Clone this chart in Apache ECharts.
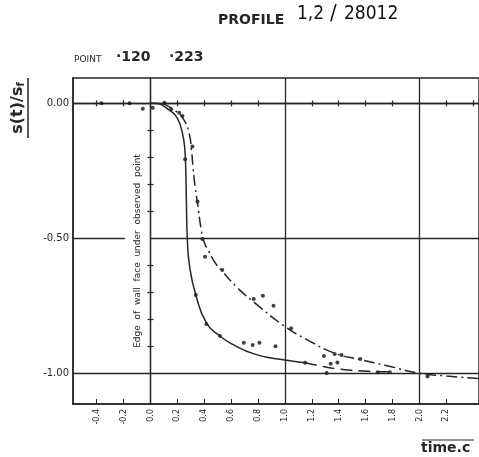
<!DOCTYPE html>
<html>
<head>
<meta charset="utf-8">
<script src="https://cdn.jsdelivr.net/npm/echarts@6/dist/echarts.min.js"></script>
<style>
  html, body { margin: 0; padding: 0; background: #fff; }
  #main { width: 479px; height: 457px; }
</style>
</head>
<body>
<div id="main"></div>
<script>
// axis window (frame edges)
var xMin = -0.576, xMax = 2.443;
var yMin = -1.114, yMax = 0.094;

var xLabelValues = [-0.4, -0.2, 0, 0.2, 0.4, 0.6, 0.8, 1.0, 1.2, 1.4, 1.6, 1.8, 2.0, 2.2];
var xZeroTicks = [-0.4, -0.2, 0.2, 0.4, 0.6, 0.8, 1.2, 1.4, 1.6, 1.8, 2.2, 2.4];
var yZeroTicks = [-0.1, -0.2, -0.3, -0.4, -0.6, -0.7, -0.8, -0.9];
var yLabelValues = [0, -0.5, -1];
var xGridLines = [1, 2];
var yGridLines = [-1];

// point 120 - inner curve (solid, dashed tail)
var curve120 = [
  [0.0, 0.0], [0.03, 0.0], [0.14, -0.025], [0.2, -0.056], [0.238, -0.111],
  [0.256, -0.173], [0.263, -0.26], [0.267, -0.36], [0.274, -0.5], [0.29, -0.6],
  [0.337, -0.71], [0.418, -0.815], [0.517, -0.862], [0.6, -0.89], [0.78, -0.93],
  [1.0, -0.951], [1.15, -0.961]
];
var curve120Tail = [
  [1.15, -0.961], [1.28, -0.975], [1.39, -0.984], [1.62, -0.993], [1.8, -0.995]
];
// point 223 - outer curve (dash-dot)
var curve223 = [
  [0.09, 0.0], [0.19, -0.029], [0.25, -0.062], [0.288, -0.111], [0.305, -0.173],
  [0.317, -0.24], [0.332, -0.31], [0.35, -0.37], [0.378, -0.47], [0.40, -0.515],
  [0.43, -0.545], [0.48, -0.59], [0.534, -0.622], [0.65, -0.685], [0.78, -0.741],
  [1.0, -0.827], [1.17, -0.877], [1.37, -0.926], [1.567, -0.95], [1.76, -0.972],
  [2.0, -1.0], [2.2, -1.01], [2.443, -1.02]
];

var points120 = [
  [-0.364, 0.0], [-0.155, 0.0], [-0.057, -0.02], [0.017, -0.016], [0.153, -0.022],
  [0.214, -0.035], [0.258, -0.207], [0.337, -0.71], [0.416, -0.818], [0.517, -0.862],
  [0.694, -0.887], [0.76, -0.895], [0.81, -0.887], [0.93, -0.9], [1.15, -0.961],
  [1.34, -0.965], [1.39, -0.96], [1.31, -0.999], [1.69, -0.996], [1.78, -0.996]
];
var points223 = [
  [0.103, 0.002], [0.238, -0.047], [0.312, -0.16], [0.35, -0.364], [0.386, -0.503],
  [0.406, -0.568], [0.534, -0.617], [0.768, -0.725], [0.836, -0.713], [0.915, -0.75],
  [1.046, -0.833], [1.29, -0.936], [1.37, -0.929], [1.42, -0.932], [1.56, -0.947],
  [2.06, -1.012]
];

var ink = '#262626';
var chart = echarts.init(document.getElementById('main'));

// extra axes sitting on the zero lines, only for their little cross ticks
function zeroAxis(dim, inside) {
  return {
    type: 'value', min: dim === 'x' ? xMin : yMin, max: dim === 'x' ? xMax : yMax,
    position: dim === 'x' ? 'bottom' : 'left',
    axisLine: { show: true, onZero: true, lineStyle: { color: ink, width: 1.3 } },
    axisTick: { show: true, inside: inside, length: 3, customValues: dim === 'x' ? xZeroTicks : yZeroTicks,
      lineStyle: { color: ink, width: 1.2 } },
    axisLabel: { show: false },
    splitLine: { show: false }
  };
}

var option = {
  animation: false,
  backgroundColor: '#fff',
  grid: { left: 73, top: 78, right: -3, bottom: 53, show: true, borderColor: ink, borderWidth: 1.5 },
  xAxis: [
    {
      type: 'value', min: xMin, max: xMax, position: 'bottom',
      axisLine: { show: true, onZero: false, lineStyle: { color: ink, width: 1.5 } },
      axisTick: { show: true, inside: true, length: 5, customValues: xLabelValues, lineStyle: { color: ink } },
      axisLabel: {
        customValues: xLabelValues, rotate: 90, margin: 5, color: ink,
        fontSize: 8, fontFamily: 'DejaVu Sans',
        formatter: function (v) { return v.toFixed(1); }
      },
      splitLine: { show: false }
    },
    zeroAxis('x', false),
    zeroAxis('x', true)
  ],
  yAxis: [
    {
      type: 'value', min: yMin, max: yMax, position: 'left',
      axisLine: { show: true, onZero: false, lineStyle: { color: ink, width: 1.5 } },
      axisTick: { show: false },
      axisLabel: {
        customValues: yLabelValues, margin: 4, color: ink, fontSize: 10, fontFamily: 'DejaVu Sans',
        formatter: function (v) { return v.toFixed(2); }
      },
      splitLine: { show: false }
    },
    zeroAxis('y', false),
    zeroAxis('y', true)
  ],
  series: [
    {
      name: '120', type: 'line', data: curve120, smooth: 0.5, showSymbol: false,
      lineStyle: { color: ink, width: 1.5 },
      markLine: {
        silent: true, symbol: 'none', label: { show: false },
        lineStyle: { color: ink, width: 1.3, type: 'solid' },
        data: xGridLines.map(function (v) { return { xAxis: v }; })
          .concat(yGridLines.map(function (v) { return { yAxis: v }; }))
          .concat([
            [{ coord: [xMin, -0.5] }, { coord: [-0.19, -0.5] }],
            [{ coord: [0, -0.5] }, { coord: [xMax, -0.5] }]
          ])
      }
    },
    {
      name: '120 tail', type: 'line', data: curve120Tail, smooth: 0.5, showSymbol: false,
      lineStyle: { color: ink, width: 1.5, type: [12, 6] }
    },
    {
      name: '223', type: 'line', data: curve223, smooth: 0.5, showSymbol: false,
      lineStyle: { color: ink, width: 1.5, type: [11, 4, 2, 4] }
    },
    { name: 'pts120', type: 'scatter', data: points120, symbolSize: 4, itemStyle: { color: '#111' } },
    { name: 'pts223', type: 'scatter', data: points223, symbolSize: 4, itemStyle: { color: '#111' } }
  ],
  graphic: [
    { type: 'text', left: 218, top: 13, style: { text: 'PROFILE', fill: ink, font: 'bold 14px "DejaVu Sans"' } },
    { type: 'text', left: 297, top: 5, style: { text: '1,2', fill: '#111', font: '19px "DejaVu Sans Condensed"' } },
    { type: 'text', left: 330, top: 3, style: { text: '/', fill: '#111', font: '22px "DejaVu Sans Condensed"' } },
    { type: 'text', left: 344, top: 5, style: { text: '28012', fill: '#111', font: '19px "DejaVu Sans Condensed"' } },
    { type: 'text', left: 74, top: 55, style: { text: 'POINT', fill: ink, font: '9px "DejaVu Sans"' } },
    { type: 'text', left: 116, top: 50, style: { text: '\u00b7120', fill: ink, font: 'bold 14px "DejaVu Sans"' } },
    { type: 'text', left: 169, top: 50, style: { text: '\u00b7223', fill: ink, font: 'bold 14px "DejaVu Sans"' } },
    {
      type: 'text', x: 18, y: 108, rotation: Math.PI / 2,
      style: {
        text: '{a|s(t)/s}{b|f}', align: 'center', verticalAlign: 'middle', fill: ink,
        rich: {
          a: { font: 'bold 16px "DejaVu Sans"', fill: ink },
          b: { font: 'bold 10px "DejaVu Sans"', fill: ink, verticalAlign: 'bottom', padding: [6, 0, 0, 0] }
        }
      }
    },
    { type: 'line', shape: { x1: 28, y1: 78, x2: 28, y2: 138 }, style: { stroke: ink, lineWidth: 1.5 } },
    {
      type: 'text', x: 138, y: 251, rotation: Math.PI / 2,
      style: { text: 'Edge  of  wall  face  under  observed  point', align: 'center', verticalAlign: 'middle',
        fill: ink, font: '9px "DejaVu Sans"' }
    },
    { type: 'line', shape: { x1: 422, y1: 440, x2: 474, y2: 440 }, style: { stroke: ink, lineWidth: 1.2 } },
    { type: 'text', left: 421, top: 441, style: { text: 'time.c', fill: ink, font: 'bold 14px "DejaVu Sans"' } }
  ]
};
chart.setOption(option);
</script>
</body>
</html>
